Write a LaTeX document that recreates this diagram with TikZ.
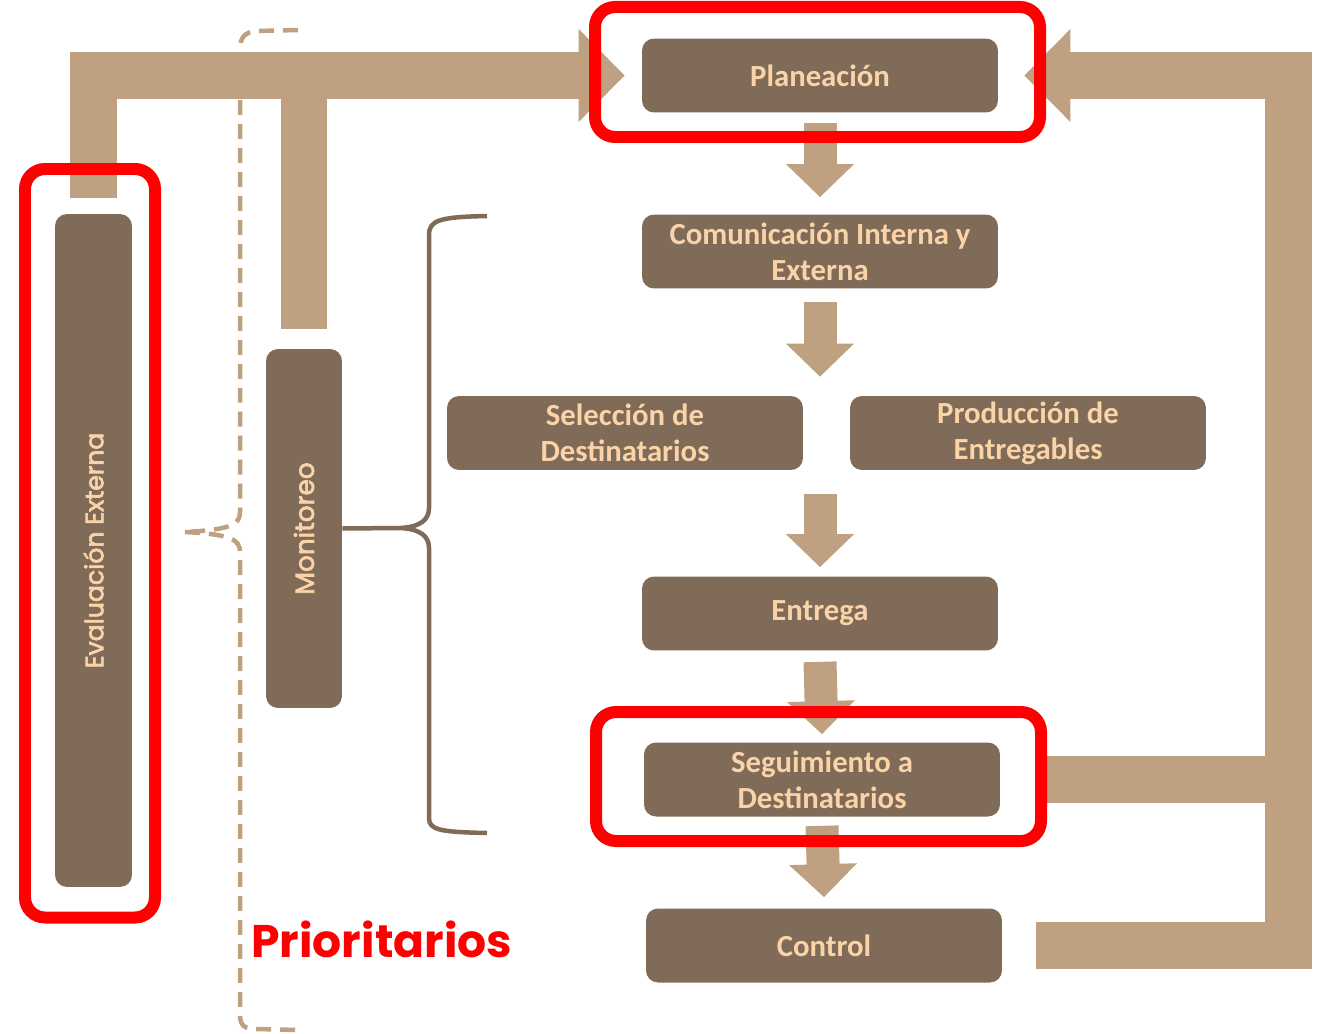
\documentclass[tikz,border=0pt]{standalone}
\usepackage{fontspec}
\setmainfont{Carlito}
\newfontfamily\geofont{Poppins}
\newfontfamily\geomed{Poppins}[FakeBold=2.6]
\usetikzlibrary{arrows.meta}
\definecolor{boxbrown}{RGB}{127,107,87}
\definecolor{peach}{RGB}{250,212,168}
\definecolor{tan}{RGB}{191,160,128}
\begin{document}
\begin{tikzpicture}[x=0.02cm,y=-0.02cm,
  stagebox/.style={fill=boxbrown,rounded corners=0.24cm,minimum width=7.12cm,minimum height=1.48cm,
    inner sep=0pt,align=center,text=peach,font=\fontsize{17.5}{20.5}\selectfont\bfseries},
  sidebar/.style={fill=boxbrown,rounded corners=0.24cm,inner sep=0pt,text=peach,
    font=\geomed\fontsize{14.3}{16}\selectfont},
  flowarrow/.style={draw=tan,line width=0.66cm,-{Triangle[width=1.32cm,length=0.66cm]}},
  loopbar/.style={draw=tan,line width=0.94cm,miter limit=10},
  looparrow/.style={loopbar,-{Triangle[width=1.8cm,length=0.92cm]}},
  hilite/.style={draw=red,line width=0.24cm,rounded corners=0.4cm},
  dashbrace/.style={draw=tan,line width=0.09cm,dash pattern=on 0.3cm off 0.18cm},
  darkbrace/.style={draw=boxbrown,line width=0.09cm}]
\useasboundingbox (0,0) rectangle (1322,1034);

\node[stagebox] (plan) at (820,75.5) {Planeación};
\node[stagebox] (com) at (820,251.5) {Comunicación Interna y\\Externa};
\node[stagebox] (sel) at (625,433) {Selección de\\Destinatarios};
\node[stagebox] (prod) at (1028,433) {Producción de\\Entregables};
\node[stagebox] (ent) at (820,613.5) {Entrega};
\node[stagebox] (seg) at (822,779.5) {Seguimiento a\\Destinatarios};
\node[stagebox] (ctrl) at (824,945.5) {Control};
\node[sidebar,minimum width=1.54cm,minimum height=13.46cm] (eval) at (93.5,550.5) {\rotatebox{90}{Evaluación Externa}};
\node[sidebar,minimum width=1.52cm,minimum height=7.18cm,font=\geomed\fontsize{15}{17}\selectfont] (mon) at (304,528.5) {\rotatebox{90}{Monitoreo}};
\coordinate (loopR) at (1288.5,500);

\draw[flowarrow] ([yshift=-0.2cm]plan.south) -- ([yshift=0.34cm]com.north);
\draw[flowarrow] ([yshift=-0.26cm]com.south) -- ([yshift=0.38cm]com.south |- sel.north);
\draw[flowarrow] ([yshift=-0.48cm]com.south |- sel.south) -- ([yshift=0.18cm]ent.north);
\draw[flowarrow] ([yshift=-0.22cm]ent.south) -- ([yshift=0.16cm]seg.north);
\draw[flowarrow] ([yshift=-0.18cm]seg.south) -- ([yshift=0.22cm]ctrl.north);

\draw[looparrow] ([yshift=0.32cm]eval.north) |- ([xshift=-0.34cm]plan.west);
\draw[loopbar] ([yshift=0.4cm]mon.north) -- (mon.north |- plan.west);
\draw[looparrow] ([xshift=0.68cm]ctrl.east) -| (loopR) |- ([xshift=0.52cm]plan.east);
\draw[loopbar] ([xshift=0.9cm]seg.east) -- (seg.east -| loopR);

\draw[hilite] (595,7) rectangle (1040,137);
\draw[hilite] (596,712) rectangle (1041,841);
\draw[hilite] (25,169) rectangle (155,917.5);

\draw[dashbrace] (298,30) -- (257,31) .. controls (244,32) and (240,38) .. (240,50) -- (240,512)
  .. controls (240,524) and (232,530) .. (183,532)
  .. controls (232,534) and (240,540) .. (240,552) -- (240,1015)
  .. controls (240,1026) and (245,1029) .. (257,1029) -- (298,1030);
\draw[darkbrace] (487,216) .. controls (440,217) and (429,220) .. (429,235) -- (429,508)
  .. controls (429,520) and (420,527) .. (400,528) -- (mon.east) -- (400,528)
  .. controls (420,529) and (429,536) .. (429,548) -- (429,818)
  .. controls (429,830) and (440,832) .. (487,833);

\node[anchor=base west,inner sep=0pt,text=red,font=\geofont\bfseries\fontsize{26}{29}\selectfont] (prio) at (251,957) {Prioritarios};
\end{tikzpicture}
\end{document}
